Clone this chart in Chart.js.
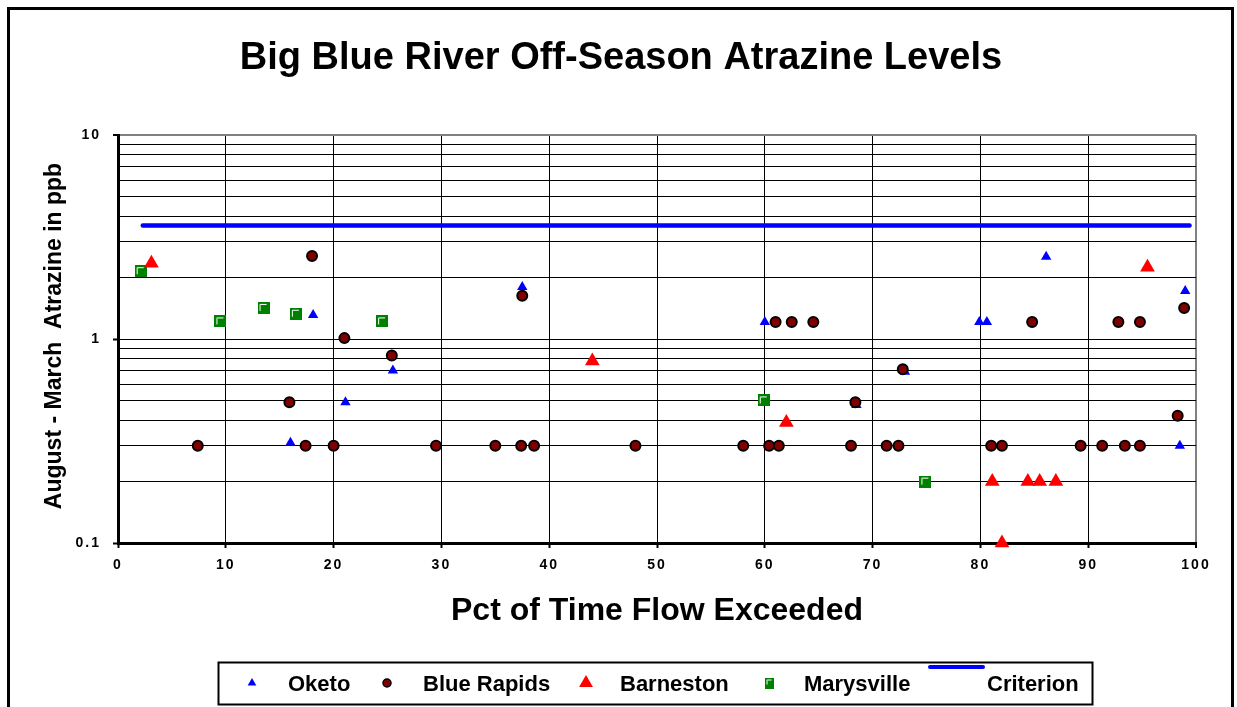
<!DOCTYPE html>
<html>
<head>
<meta charset="utf-8">
<script src="https://cdn.jsdelivr.net/npm/chart.js@4.4.1/dist/chart.umd.min.js"></script>
<style>
  html, body { margin: 0; padding: 0; background: #ffffff; }
  #c { display: block; }
</style>
</head>
<body>
<canvas id="c" width="1237" height="707"></canvas>
<script>
// Percent of time flow exceeded (x) and atrazine concentration in ppb (y)
const oketoX = [16.0, 18.1, 21.1, 25.5, 37.5, 60.0, 68.5, 73.0, 79.9, 80.6, 86.1, 98.5, 99.0];
const oketoY = [0.31, 1.31, 0.49, 0.70, 1.80, 1.21, 0.475, 0.69, 1.21, 1.21, 2.53, 0.30, 1.72];

const blueRapidsX = [7.4, 15.9, 17.4, 18.0, 20.0, 21.0, 25.4, 29.5, 35.0, 37.4,
                     37.5, 38.6, 48.0, 58.0, 60.4, 61.0, 61.3, 62.5, 64.5, 68.0,
                     68.4, 71.3, 72.4, 72.8, 81.0, 82.0, 84.8, 89.3, 91.3, 92.8,
                     93.4, 94.8, 94.8, 98.3, 98.9];
const blueRapidsY = [0.3, 0.49, 0.3, 2.55, 0.3, 1.01, 0.83, 0.3, 0.3, 0.3,
                     1.63, 0.3, 0.3, 0.3, 0.3, 1.21, 0.3, 1.21, 1.21, 0.3,
                     0.49, 0.3, 0.3, 0.71, 0.3, 0.3, 1.21, 0.3, 0.3, 1.21,
                     0.3, 1.21, 0.3, 0.42, 1.42];

const barnestonX = [3.1, 44.0, 62.0, 81.1, 82.0, 84.4, 85.5, 87.0, 95.5];
const barnestonY = [2.35, 0.78, 0.39, 0.2, 0.1, 0.2, 0.2, 0.2, 2.25];

const marysvilleX = [2.1, 9.5, 13.5, 16.5, 24.5, 59.9, 74.9];
const marysvilleY = [2.15, 1.22, 1.42, 1.33, 1.22, 0.5, 0.2];

const criterionX = [2.3, 99.4];
const criterionY = [3.6, 3.6];

// Axis ticks
const xTicks = [0, 10, 20, 30, 40, 50, 60, 70, 80, 90, 100];
const yGridValues = [0.1, 0.2, 0.3, 0.4, 0.5, 0.6, 0.7, 0.8, 0.9,
                     1, 2, 3, 4, 5, 6, 7, 8, 9, 10];
const yLabelValues = [0.1, 1, 10];
const yLabelText = ['0.1', '1', '10'];

const FONT = "'Liberation Sans', Arial, Helvetica, sans-serif";

function pairs(xs, ys) {
  return xs.map((x, i) => ({ x: x, y: ys[i] }));
}

// Green square marker with a white inner corner
function squareMarker(w, h, inset, len) {
  const cv = document.createElement('canvas');
  cv.width = w; cv.height = h;
  const g = cv.getContext('2d');
  g.fillStyle = '#008000';
  g.fillRect(0, 0, w, h);
  g.strokeStyle = '#ffffff';
  g.lineWidth = 1;
  g.beginPath();
  g.moveTo(inset + 0.5, inset + len);
  g.lineTo(inset + 0.5, inset + 0.5);
  g.lineTo(inset + len, inset + 0.5);
  g.stroke();
  return cv;
}
const marysvilleMarker = squareMarker(12, 12, 2, 7);
const marysvilleLegendMarker = squareMarker(9, 11, 2, 5);

function isLabelled(v) {
  return yLabelValues.some(l => Math.abs(l - v) < 1e-9);
}

// Frame, titles and legend drawn around the plot
const decorations = {
  id: 'decorations',
  beforeDraw(chart) {
    chart.ctx.letterSpacing = '2px';
  },
  afterDraw(chart) {
    const ctx = chart.ctx;
    ctx.save();
    ctx.letterSpacing = '0px';

    // outer frame
    ctx.strokeStyle = '#000';
    ctx.lineWidth = 3;
    ctx.strokeRect(8.5, 8.5, 1224, 760);

    ctx.fillStyle = '#000';
    ctx.textAlign = 'center';
    ctx.textBaseline = 'alphabetic';

    // chart title
    ctx.font = 'bold 38px ' + FONT;
    ctx.fillText('Big Blue River Off-Season Atrazine Levels', 621, 69);

    // x axis title
    const area = chart.chartArea;
    ctx.font = 'bold 32px ' + FONT;
    ctx.fillText('Pct of Time Flow Exceeded', (area.left + area.right) / 2, 620);

    // y axis title
    ctx.save();
    ctx.translate(61, 336);
    ctx.rotate(-Math.PI / 2);
    ctx.font = 'bold 23px ' + FONT;
    ctx.fillText('August - March  Atrazine in ppb', 0, 0);
    ctx.restore();

    // legend
    ctx.strokeStyle = '#000';
    ctx.lineWidth = 2;
    ctx.strokeRect(218.5, 662.5, 874, 42);

    const ds = chart.data.datasets;
    const cy = 683;
    const drawPt = window.Chart && window.Chart.helpers ? window.Chart.helpers.drawPoint : null;

    function marker(d, x, r, bw) {
      ctx.save();
      ctx.fillStyle = d.backgroundColor;
      ctx.strokeStyle = d.borderColor;
      ctx.lineWidth = bw;
      if (drawPt) {
        drawPt(ctx, { pointStyle: d.pointStyle, rotation: 0, radius: r, borderWidth: bw }, x, cy);
      }
      ctx.restore();
    }
    marker(ds[0], 252, 5, 0);
    marker(ds[1], 387, 4, 1.5);
    marker(ds[2], 586, 8, 0);
    ctx.drawImage(marysvilleLegendMarker, 769 - 4.5, cy - 5.5);

    ctx.strokeStyle = ds[4].borderColor;
    ctx.lineWidth = 4;
    ctx.lineCap = 'round';
    ctx.beginPath();
    ctx.moveTo(930, 667);
    ctx.lineTo(983, 667);
    ctx.stroke();

    ctx.fillStyle = '#000';
    ctx.textAlign = 'left';
    ctx.font = 'bold 22px ' + FONT;
    const names = ds.map(d => d.label);
    const textX = [288, 423, 620, 804, 987];
    names.forEach((n, i) => ctx.fillText(n, textX[i], 691));

    ctx.restore();
  }
};

new Chart(document.getElementById('c'), {
  type: 'scatter',
  data: {
    datasets: [
      {
        label: 'Oketo',
        data: pairs(oketoX, oketoY),
        pointStyle: 'triangle',
        pointRadius: 6,
        pointHoverRadius: 6,
        backgroundColor: '#0000ff',
        borderColor: '#0000ff',
        borderWidth: 0,
        clip: false,
        order: 3
      },
      {
        label: 'Blue Rapids',
        data: pairs(blueRapidsX, blueRapidsY),
        pointStyle: 'circle',
        pointRadius: 5,
        pointHoverRadius: 5,
        backgroundColor: '#800000',
        borderColor: '#000000',
        borderWidth: 2,
        clip: false,
        order: 2
      },
      {
        label: 'Barneston',
        data: pairs(barnestonX, barnestonY),
        pointStyle: 'triangle',
        pointRadius: 8.5,
        pointHoverRadius: 8.5,
        backgroundColor: '#ff0000',
        borderColor: '#ff0000',
        borderWidth: 0,
        clip: false,
        order: 1
      },
      {
        label: 'Marysville',
        data: pairs(marysvilleX, marysvilleY),
        pointStyle: marysvilleMarker,
        pointRadius: 6,
        pointHoverRadius: 6,
        backgroundColor: '#008000',
        borderColor: '#008000',
        borderWidth: 0,
        clip: false,
        order: 1
      },
      {
        label: 'Criterion',
        data: pairs(criterionX, criterionY),
        showLine: true,
        pointRadius: 0,
        pointHoverRadius: 0,
        borderColor: '#0000ff',
        backgroundColor: '#0000ff',
        borderWidth: 4.5,
        borderCapStyle: 'round',
        fill: false,
        clip: false,
        order: 5
      }
    ]
  },
  options: {
    responsive: false,
    animation: false,
    events: [],
    layout: { padding: { left: 0, top: 135, right: 41, bottom: 0 } },
    plugins: {
      legend: { display: false },
      tooltip: { enabled: false },
      title: { display: false }
    },
    scales: {
      x: {
        type: 'linear',
        position: 'bottom',
        min: 0,
        max: 100,
        afterBuildTicks: s => { s.ticks = xTicks.map(v => ({ value: v })); },
        afterFit: s => { s.height = 164; },
        ticks: {
          color: '#000',
          autoSkip: false,
          maxRotation: 0,
          padding: 9,
          font: { family: FONT, size: 14, weight: 'bold' },
          callback: v => String(v)
        },
        grid: {
          color: c => (c.tick && c.tick.value === 100) ? '#808080' : '#000000',
          lineWidth: c => (c.tick && c.tick.value === 100) ? 2 : 1,
          tickLength: 5,
          tickColor: '#000000',
          tickWidth: 2
        },
        border: { color: '#000000', width: 3 }
      },
      y: {
        type: 'logarithmic',
        position: 'left',
        min: 0.1,
        max: 10,
        afterBuildTicks: s => { s.ticks = yGridValues.map(v => ({ value: v, major: isLabelled(v) })); },
        afterFit: s => { s.width = 118; },
        ticks: {
          color: '#000',
          autoSkip: false,
          padding: 12,
          font: { family: FONT, size: 14, weight: 'bold' },
          callback: v => {
            const i = yLabelValues.findIndex(l => Math.abs(l - v) < 1e-9);
            return i >= 0 ? yLabelText[i] : '';
          }
        },
        grid: {
          color: c => (c.tick && c.tick.value === 10) ? '#808080' : '#000000',
          lineWidth: c => (c.tick && c.tick.value === 10) ? 2 : 1,
          tickLength: 5,
          tickColor: c => (c.tick && isLabelled(c.tick.value)) ? '#000000' : 'rgba(0,0,0,0)',
          tickWidth: 2
        },
        border: { color: '#000000', width: 3 }
      }
    }
  },
  plugins: [decorations]
});
</script>
</body>
</html>
